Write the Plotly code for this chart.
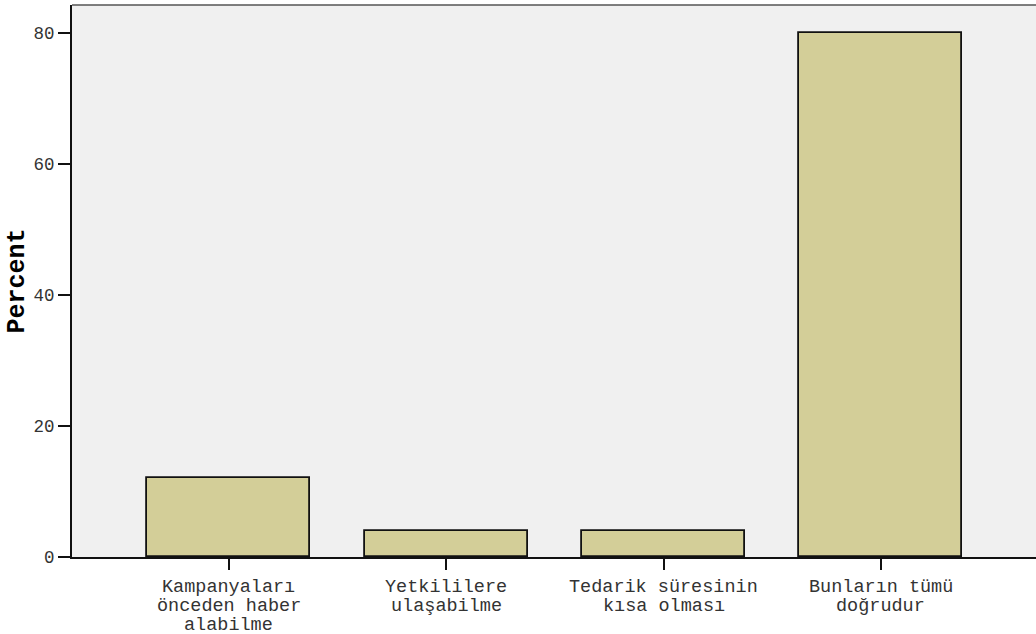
import plotly.graph_objects as go

# category labels, one list entry per line of each label
categories = [
    ["Kampanyaları", "önceden haber", "alabilme"],
    ["Yetkililere", "ulaşabilme"],
    ["Tedarik süresinin", "kısa olması"],
    ["Bunların tümü", "doğrudur"],
]
percent = [12, 4, 4, 80]
y_ticks = [0, 20, 40, 60, 80]

FONT = "Liberation Mono, Courier New, monospace"
x_pos = list(range(len(categories)))

fig = go.Figure(
    go.Bar(
        x=x_pos,
        y=percent,
        width=0.75,
        marker=dict(color="#d3ce98", line=dict(color="#111111", width=1.8)),
        hoverinfo="skip",
    )
)

fig.update_layout(
    width=1036,
    height=634,
    margin=dict(l=72, r=0, t=5, b=77),
    paper_bgcolor="#ffffff",
    plot_bgcolor="#f0f0f0",
    showlegend=False,
    font=dict(family=FONT, size=18, color="#333333"),
    bargap=0,
)

fig.update_xaxes(
    range=[-0.722, 3.714],
    tickmode="array",
    tickvals=x_pos,
    ticktext=["" for _ in x_pos],
    ticks="outside",
    ticklen=11,
    tickwidth=2,
    tickcolor="#111111",
    showline=True,
    linecolor="#111111",
    linewidth=2,
    showgrid=False,
    zeroline=False,
    fixedrange=True,
)

fig.update_yaxes(
    range=[0, 84.3],
    tickmode="array",
    tickvals=y_ticks,
    ticktext=[str(v) for v in y_ticks],
    ticks="outside",
    ticklen=12,
    tickwidth=2,
    tickcolor="#111111",
    showline=True,
    linecolor="#111111",
    linewidth=2,
    showgrid=False,
    zeroline=False,
    tickfont=dict(family=FONT, size=17.5, color="#333333"),
    title=dict(text="<b>Percent</b>", font=dict(family=FONT, size=25, color="#000000"), standoff=2),
    fixedrange=True,
)

# category labels under each tick, tight line spacing
LINE_STEP = 19
for i, lines in enumerate(categories):
    for k, line in enumerate(lines):
        fig.add_annotation(
            x=i, xref="x", y=0, yref="paper",
            text=line, showarrow=False,
            xanchor="center", yanchor="middle",
            height=18, borderpad=0, valign="middle",
            yshift=-(30 + k * LINE_STEP),
            font=dict(family=FONT, size=18.5, color="#333333"),
        )

# thin grey frame line along the top of the plotting area
fig.add_shape(
    type="line", xref="paper", yref="paper",
    x0=0, x1=1, y0=1, y1=1,
    line=dict(color="#555555", width=1.5),
)

fig.write_html("out.html")
